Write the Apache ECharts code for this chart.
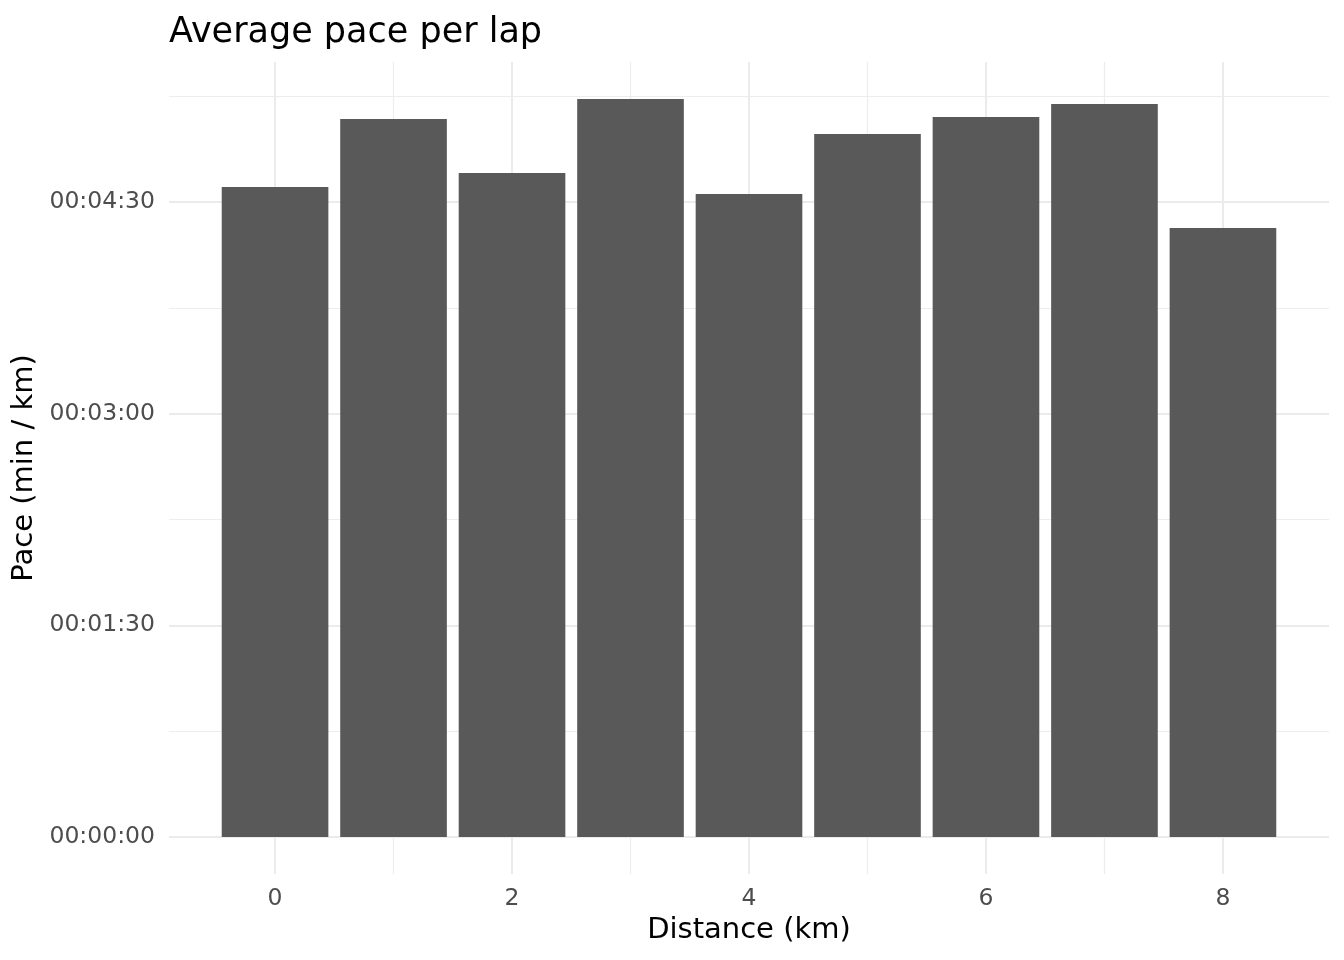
<!DOCTYPE html>
<html>
<head>
<meta charset="utf-8">
<script src="https://cdn.jsdelivr.net/npm/echarts@6/dist/echarts.min.js"></script>
<style>
  html, body { margin: 0; padding: 0; background: #fff; }
  #main { width: 1344px; height: 960px; }
</style>
</head>
<body>
<div id="main"></div>
<script>
// lap index (km) and average pace per lap in seconds
const laps = [0, 1, 2, 3, 4, 5, 6, 7, 8];
const paceSec = [276.4, 305.3, 282.3, 313.8, 273.4, 298.9, 306.1, 311.6, 258.9];
const xMajor = [0, 2, 4, 6, 8];
const xMinor = [1, 3, 5, 7];
const yMajor = [0, 90, 180, 270];
const yMinor = [45, 135, 225, 315];

function fmtPace(s) {
    const h = Math.floor(s / 3600);
    const m = Math.floor((s % 3600) / 60);
    const sec = Math.round(s % 60);
    const p = v => String(v).padStart(2, '0');
    return p(h) + ':' + p(m) + ':' + p(sec);
}

// ggplot-like expansion: 5% of the data range
const maxPace = Math.max(...paceSec);
const yMin = -0.05 * maxPace, yMax = 1.05 * maxPace;
const xSpan = 8.9;
const xMin = -0.45 - 0.05 * xSpan, xMax = 8.45 + 0.05 * xSpan;

const font = 'DejaVu Sans';
const gridColor = '#ebebeb';

var chartDom = document.getElementById('main');
var myChart = echarts.init(chartDom);
var option;

option = {
    animation: false,
    textStyle: {fontFamily: font},
    title: {
        text: 'Average pace per lap',
        left: 164,
        top: 10,
        textStyle: {fontFamily: font, fontSize: 35, fontWeight: 'normal', color: '#000'}
    },
    grid: {left: 169, right: 15, top: 62, bottom: 86},
    xAxis: [
        {
            type: 'value', min: xMin, max: xMax,
            name: 'Distance (km)', nameLocation: 'middle', nameGap: 41,
            nameTextStyle: {fontFamily: font, fontSize: 29, color: '#000'},
            axisLine: {show: false},
            axisTick: {show: false, customValues: xMajor},
            axisLabel: {customValues: xMajor, margin: 13, fontSize: 23.5, color: '#4d4d4d', fontFamily: font},
            splitLine: {show: true, lineStyle: {color: gridColor, width: 2}}
        },
        {
            type: 'value', min: xMin, max: xMax, position: 'bottom',
            axisLine: {show: false},
            axisTick: {show: false, customValues: xMinor},
            axisLabel: {show: false, customValues: xMinor},
            splitLine: {show: true, lineStyle: {color: '#ededed', width: 1.2}}
        }
    ],
    yAxis: [
        {
            type: 'value', min: yMin, max: yMax,
            name: 'Pace (min / km)', nameLocation: 'middle', nameGap: 119,
            nameTextStyle: {fontFamily: font, fontSize: 29, color: '#000'},
            axisLine: {show: false},
            axisTick: {show: false, customValues: yMajor},
            axisLabel: {customValues: yMajor, margin: 14, fontSize: 23.5, color: '#4d4d4d', fontFamily: font,
                padding: [8, 0, 0, 0],
                formatter: v => fmtPace(v)},
            splitLine: {show: true, lineStyle: {color: gridColor, width: 2}}
        },
        {
            type: 'value', min: yMin, max: yMax, position: 'left',
            axisLine: {show: false},
            axisTick: {show: false, customValues: yMinor},
            axisLabel: {show: false, customValues: yMinor},
            splitLine: {show: true, lineStyle: {color: '#ededed', width: 1.2}}
        }
    ],
    series: [
        {
            type: 'custom',
            xAxisIndex: 0,
            yAxisIndex: 0,
            data: laps.map((x, i) => [x, paceSec[i]]),
            renderItem: function (params, api) {
                const x = api.value(0), y = api.value(1);
                const top = api.coord([x, y]);
                const base = api.coord([x, 0]);
                const w = api.size([0.9, 0])[0];
                return {
                    type: 'rect',
                    shape: {x: top[0] - w / 2, y: top[1], width: w, height: base[1] - top[1]},
                    style: {fill: '#595959'}
                };
            }
        }
    ]
};

option && myChart.setOption(option);
</script>
</body>
</html>
